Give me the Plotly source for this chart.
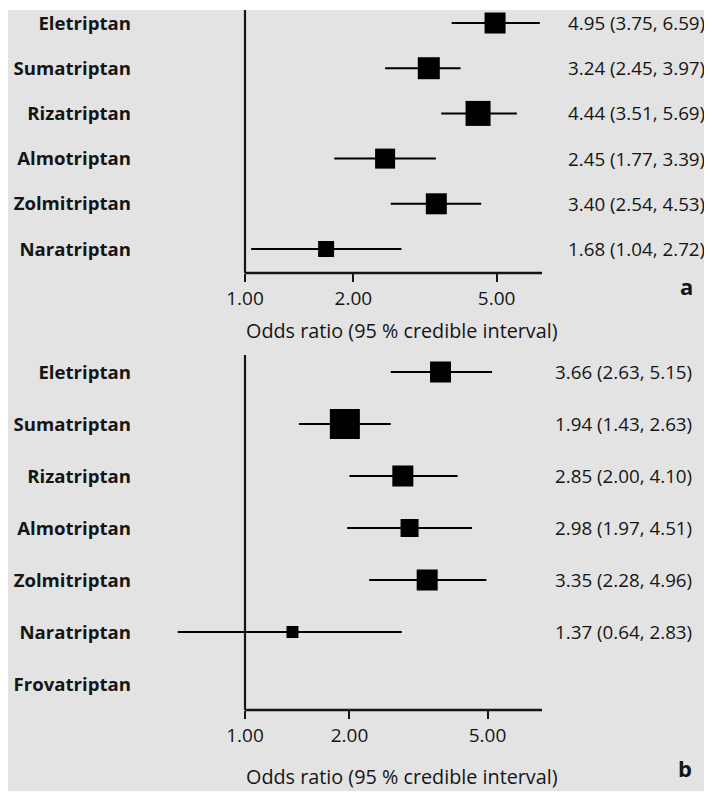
import math
import plotly.graph_objects as go

# ---------------- data ----------------
drugs_a = ["Eletriptan", "Sumatriptan", "Rizatriptan", "Almotriptan", "Zolmitriptan", "Naratriptan"]
or_a = [4.95, 3.24, 4.44, 2.45, 3.40, 1.68]
lo_a = [3.75, 2.45, 3.51, 1.77, 2.54, 1.04]
hi_a = [6.59, 3.97, 5.69, 3.39, 4.53, 2.72]

drugs_b = ["Eletriptan", "Sumatriptan", "Rizatriptan", "Almotriptan", "Zolmitriptan", "Naratriptan", "Frovatriptan"]
or_b = [3.66, 1.94, 2.85, 2.98, 3.35, 1.37]
lo_b = [2.63, 1.43, 2.00, 1.97, 2.28, 0.64]
hi_b = [5.15, 2.63, 4.10, 4.51, 4.96, 2.83]

tick_vals = [1, 2, 5]
tick_text = ["1.00", "2.00", "5.00"]
x_title = "Odds ratio (95 % credible interval)"
panel_letters = ["a", "b"]

# marker (box) sizes, as drawn in the figure
box_size_a = [21, 22, 25, 20, 21, 16]
box_size_b = [21, 30, 21, 18, 21, 12]

# ---------------- style ----------------
OFF = 8                      # page body margin of the browser
W, H = 712 - 2 * OFF, 799 - 2 * OFF   # fits the window without scrollbars
ML, MT = 170 - OFF, 10 - OFF
MR = W - (560 - OFF)
MB = H - (710 - OFF)
BG = "#e3e3e3"
INK = "#151515"
FONT = "Open Sans"
PW = W - ML - MR
PH = H - MT - MB


def px_x(p):
    """screen pixel -> paper x"""
    return (p - OFF - ML) / PW


def px_y(p):
    """screen pixel -> paper y"""
    return (H - MB - (p - OFF)) / PH


def fmt(v, l, h):
    return f"{v:.2f} ({l:.2f}, {h:.2f})"


fig = go.Figure()


def add_panel(drugs, vals, lows, highs, sizes, xa, ya):
    n = len(vals)
    fig.add_trace(go.Scatter(
        x=vals, y=drugs[:n], mode="markers",
        marker=dict(symbol="square", size=sizes, color="black", opacity=1,
                    line=dict(width=0)),
        error_x=dict(type="data", symmetric=False,
                     array=[h - v for v, h in zip(vals, highs)],
                     arrayminus=[v - l for v, l in zip(vals, lows)],
                     color="black", thickness=2, width=0),
        xaxis=xa, yaxis=ya, showlegend=False, hoverinfo="skip"))


add_panel(drugs_a, or_a, lo_a, hi_a, box_size_a, "x", "y")
add_panel(drugs_b, or_b, lo_b, hi_b, box_size_b, "x2", "y2")

# scale: pixels per decade of odds ratio, x=1 at screen pixel 245
ppd = [360, 347]
x_one = 245 - OFF
x_ranges = [[-(x_one - ML) / d, (ML + PW - x_one) / d] for d in ppd]
axis_end = [10 ** ((542 - 245) / d) for d in ppd]

dom_a = [px_y(273), 1.0]
dom_b = [0.0, px_y(355)]

xcommon = dict(type="log", tickvals=tick_vals, ticktext=tick_text, ticks="outside",
               ticklen=8, tickwidth=2, tickcolor=INK, showgrid=False, zeroline=False,
               showline=False, domain=[0, 1], automargin=False,
               tickfont=dict(family=FONT, size=19, color=INK))
ycommon = dict(type="category", categoryorder="array", showgrid=False, zeroline=False,
               showline=False, ticks="", ticklabelstandoff=38, automargin=False,
               tickfont=dict(family=FONT, size=18.6, color=INK, weight="bold"))

fig.update_layout(
    width=W, height=H, autosize=False,
    margin=dict(l=ML, r=MR, t=MT, b=MB, pad=0),
    paper_bgcolor="white", plot_bgcolor=BG,
    font=dict(family=FONT, color=INK),
    xaxis=dict(xcommon, range=x_ranges[0], anchor="y"),
    yaxis=dict(ycommon, categoryarray=drugs_a, domain=dom_a, anchor="x",
               range=[len(drugs_a) - 1 + 0.531, -0.288]),
    xaxis2=dict(xcommon, range=x_ranges[1], anchor="y2"),
    yaxis2=dict(ycommon, categoryarray=drugs_b, domain=dom_b, anchor="x2",
                range=[len(drugs_b) - 1 + 0.5, -0.327]),
)

shapes = [dict(type="rect", xref="paper", yref="paper", x0=px_x(0), x1=px_x(740),
               y0=px_y(830), y1=px_y(10), fillcolor=BG, line=dict(width=0), layer="below")]
for xr, yr, end in [("x", "y", axis_end[0]), ("x2", "y2", axis_end[1])]:
    shapes.append(dict(type="line", xref=xr, yref=yr + " domain", x0=1, x1=end, y0=0, y1=0,
                       line=dict(color=INK, width=2.5)))
    shapes.append(dict(type="line", xref=xr, yref=yr + " domain", x0=1, x1=1, y0=0, y1=1,
                       line=dict(color=INK, width=2.2)))
fig.update_layout(shapes=shapes)

ann = []
# value labels
for i, (v, l, h) in enumerate(zip(or_a, lo_a, hi_a)):
    ann.append(dict(xref="paper", yref="y", x=px_x(566), y=i, text=fmt(v, l, h),
                    xanchor="left", yanchor="middle", showarrow=False,
                    font=dict(family=FONT, size=18.8, color=INK)))
for i, (v, l, h) in enumerate(zip(or_b, lo_b, hi_b)):
    ann.append(dict(xref="paper", yref="y2", x=px_x(553), y=i, text=fmt(v, l, h),
                    xanchor="left", yanchor="middle", showarrow=False,
                    font=dict(family=FONT, size=18.8, color=INK)))
# axis titles
for ypx in [330, 776]:
    ann.append(dict(xref="paper", yref="paper", x=px_x(402), y=px_y(ypx), text=x_title,
                    xanchor="center", yanchor="middle", showarrow=False,
                    font=dict(family=FONT, size=19.8, color=INK)))
# panel letters
for letter, (xp, yp) in zip(panel_letters, [(686, 286), (685, 768)]):
    ann.append(dict(xref="paper", yref="paper", x=px_x(xp), y=px_y(yp), text=letter,
                    xanchor="center", yanchor="middle", showarrow=False,
                    font=dict(family=FONT, size=22, color=INK, weight="bold")))
fig.update_layout(annotations=ann)

fig.write_html("out.html")
